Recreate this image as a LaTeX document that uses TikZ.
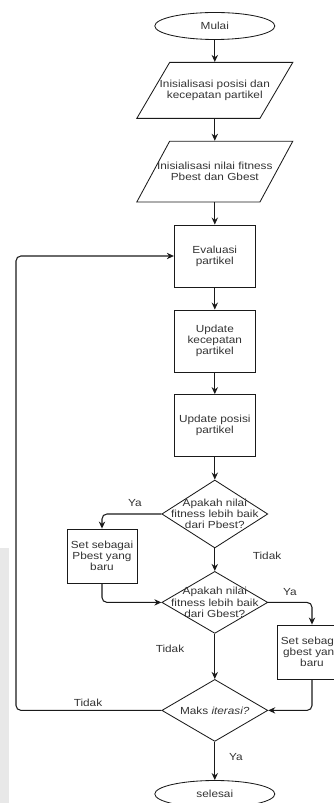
\documentclass[tikz,border=0pt]{standalone}
\usepackage{fontspec}
\setmainfont{Liberation Sans}[FakeStretch=1.15]
\usepackage{xcolor}
\usetikzlibrary{arrows.meta, positioning, shapes.geometric}
\definecolor{lineclr}{HTML}{1A1A1A}
\definecolor{textclr}{HTML}{333333}
\definecolor{pagegrey}{HTML}{E8E8E8}

\begin{document}
\begin{tikzpicture}[
    txt/.style={font=\fontsize{7.3}{8}\selectfont, text=textclr, align=center},
    term/.style={ellipse, draw=lineclr, line width=0.6pt, minimum width=3cm, minimum height=0.675cm, inner sep=0pt, txt},
    io/.style={trapezium, trapezium left angle=70, trapezium right angle=110, trapezium stretches=true, draw=lineclr, line width=0.6pt, minimum width=3.9cm, minimum height=1.4cm, inner sep=1pt},
    proc/.style={rectangle, draw=lineclr, line width=0.6pt, minimum width=2.025cm, minimum height=1.55cm, inner sep=1pt, txt},
    setbox/.style={rectangle, draw=lineclr, line width=0.6pt, minimum width=1.75cm, minimum height=1.35cm, inner sep=1pt, txt},
    dec/.style={diamond, draw=lineclr, line width=0.6pt, minimum width=2.65cm, minimum height=1.55cm, inner sep=1pt},
    lbl/.style={txt, inner sep=0pt},
    arr/.style={-{Stealth[length=5pt, width=4.5pt]}, line width=0.75pt, color=lineclr},
    conn/.style={arr, rounded corners=3.5pt}
]
    \clip (0,0) rectangle (8.35,-20.075);
    \fill[pagegrey] (0,-13.7) rectangle (0.22,-20.075);

    % Start and setup
    \node[term] (mulai) at (5.37,-0.65) {Mulai};
    \node[io] (initpos) at (5.37,-2.26) {};
    \node[io, minimum height=1.52cm] (initfit) at (5.37,-4.29) {};
    \node[txt] (initpostxt) at (initpos) {Inisialisasi posisi dan\\kecepatan partikel};
    \node[txt] (initfittxt) at (initfit) {Inisialisasi nilai fitness\\Pbest dan Gbest};

    % Main loop
    \node[proc] (eval) at (5.37,-6.4) {Evaluasi\\partikel};
    \node[proc] (updv) at (5.37,-8.525) {Update\\kecepatan\\partikel};
    \node[proc] (updx) at (5.37,-10.64) {Update posisi\\partikel};

    % Decisions
    \node[dec, minimum height=1.7cm] (cekp) at (5.37,-12.85) {};
    \node[dec] (cekg) at (5.37,-15.06) {};
    \node[dec] (cekmax) at (5.37,-17.76) {};
    \node[txt] (cekptxt) at (cekp) {Apakah nilai\\fitness lebih baik\\dari Pbest?};
    \node[txt] (cekgtxt) at (cekg) {Apakah nilai\\fitness lebih baik\\dari Gbest?};
    \node[txt] (cekmaxtxt) at (cekmax) {Maks \textit{iterasi?}};
    \node[term] (selesai) at (5.37,-19.85) {selesai};

    % Side boxes
    \node[setbox] (setp) at (2.55,-13.9) {Set sebagai\\Pbest yang\\baru};
    \node[setbox] (setg) at (7.8,-16.3) {Set sebagai\\gbest yang\\baru};
    \coordinate (back) at (0.4,-6.4);

    % Labels
    \node[lbl] (ya1) at (3.375,-12.575) {Ya};
    \node[lbl] (tidak1) at (6.675,-13.9) {Tidak};
    \node[lbl] (ya2) at (7.25,-14.8) {Ya};
    \node[lbl] (tidak2) at (4.25,-16.225) {Tidak};
    \node[lbl] (tidak3) at (2.2,-17.575) {Tidak};
    \node[lbl] (ya3) at (5.9,-18.925) {Ya};

    \draw[arr] (mulai) -- (initpos);
    \draw[arr] (initpos) -- (initfit);
    \draw[arr] (initfit) -- (eval);
    \draw[arr] (eval) -- (updv);
    \draw[arr] (updv) -- (updx);
    \draw[arr] (updx) -- (cekp);
    \draw[conn] (cekp.west) -| (setp.north);
    \draw[arr] (cekp) -- (cekg);
    \draw[conn] (setp.south) |- (cekg.west);
    \draw[conn] (cekg.east) -| (setg.north);
    \draw[arr] (cekg) -- (cekmax);
    \draw[conn] (setg.south) |- (cekmax.east);
    \draw[conn] (cekmax.west) -| (back) -- (eval.west);
    \draw[arr] (cekmax) -- (selesai);
\end{tikzpicture}
\end{document}
